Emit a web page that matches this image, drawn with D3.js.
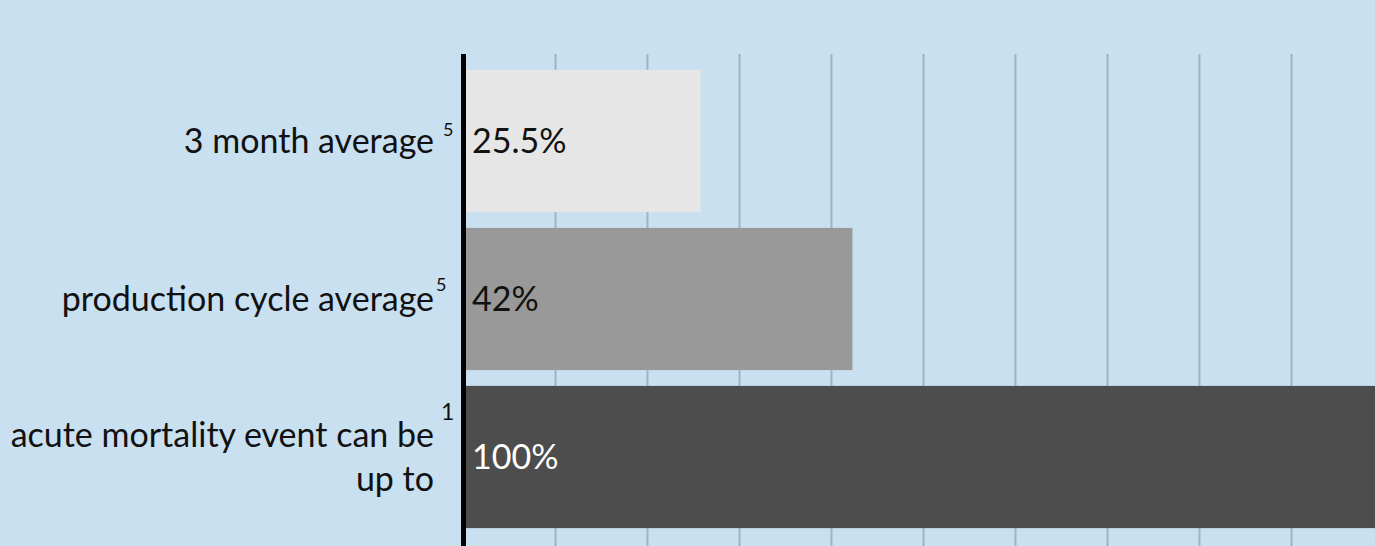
<!DOCTYPE html>
<html><head><meta charset="utf-8">
<script src="https://cdn.jsdelivr.net/npm/d3@7"></script>
<style>html,body{margin:0;padding:0;background:#c8e0f0;overflow:hidden}</style>
</head><body><svg id="c" width="1375" height="546"></svg>
<script>
const categories = ["3 month average", "production cycle average", "acute mortality event can be up to"];
const labelLines = [["3 month average"], ["production cycle average"], ["acute mortality event can be", "up to"]];
const footnotes = ["5", "5", "1"];
const values = [25.5, 42, 100];
const valueLabels = ["25.5%", "42%", "100%"];
const barColors = ["#e6e6e6", "#999999", "#4d4d4d"];
const valueLabelColors = ["#111111", "#111111", "#ffffff"];
const xTicks = [0, 10, 20, 30, 40, 50, 60, 70, 80, 90, 100];

// layout of footnote marks (offsets relative to label end / band centre, font size)
const supLayout = [{dx: 9, dy: -5, fs: 18}, {dx: 2, dy: -8, fs: 18}, {dx: 7, dy: -37, fs: 23}];

const W = 1375, H = 546;
const FONT = "Lato, 'Open Sans', sans-serif";
const LABEL_END = 434;
const svg = d3.select("#c");
svg.append("rect").attr("width", W).attr("height", H).attr("fill", "#c8e0f0");

const x = d3.scaleLinear().domain([0, 100]).range([463, 1383]);
const y = d3.scaleBand().domain(categories).range([62, 536]).paddingInner(0.1).paddingOuter(0.05);

// grid
const grid = svg.append("g").attr("transform", "translate(0,54)")
  .call(d3.axisTop(x).tickValues(xTicks.slice(1)).tickSize(-(H - 54)).tickFormat(""));
grid.select(".domain").remove();
grid.selectAll(".tick line").attr("stroke", "#9fb4c4").attr("stroke-width", 2);

// bars
const data = categories.map((c, i) => ({c, v: values[i], i}));
svg.append("g").selectAll("rect").data(data).join("rect")
  .attr("x", x(0) + 3)
  .attr("y", d => y(d.c))
  .attr("width", d => x(d.v) - x(0))
  .attr("height", y.bandwidth())
  .attr("fill", d => barColors[d.i]);

// axis line
svg.append("line").attr("x1", x(0) + 0.5).attr("x2", x(0) + 0.5).attr("y1", 54).attr("y2", H)
  .attr("stroke", "#000").attr("stroke-width", 5);

// value labels
svg.append("g").selectAll("text").data(data).join("text")
  .attr("x", x(0) + 9)
  .attr("y", d => y(d.c) + y.bandwidth() / 2)
  .attr("dy", "0.35em")
  .attr("font-family", FONT).attr("font-size", 34)
  .attr("fill", d => valueLabelColors[d.i])
  .text(d => valueLabels[d.i]);

// category labels
const lab = svg.append("g");
data.forEach(d => {
  const cy = y(d.c) + y.bandwidth() / 2;
  const lines = labelLines[d.i];
  const lh = 44;
  const first = cy + 12 - (lines.length - 1) * lh / 2;
  lines.forEach((ln, k) => {
    lab.append("text").attr("x", LABEL_END).attr("y", first + k * lh)
      .attr("text-anchor", "end")
      .attr("font-family", FONT).attr("font-size", 34).attr("fill", "#111111")
      .text(ln);
  });
  const s = supLayout[d.i];
  lab.append("text").attr("x", LABEL_END + s.dx).attr("y", cy + s.dy)
    .attr("font-family", FONT).attr("font-size", s.fs).attr("fill", "#111111")
    .text(footnotes[d.i]);
});
</script></body></html>
